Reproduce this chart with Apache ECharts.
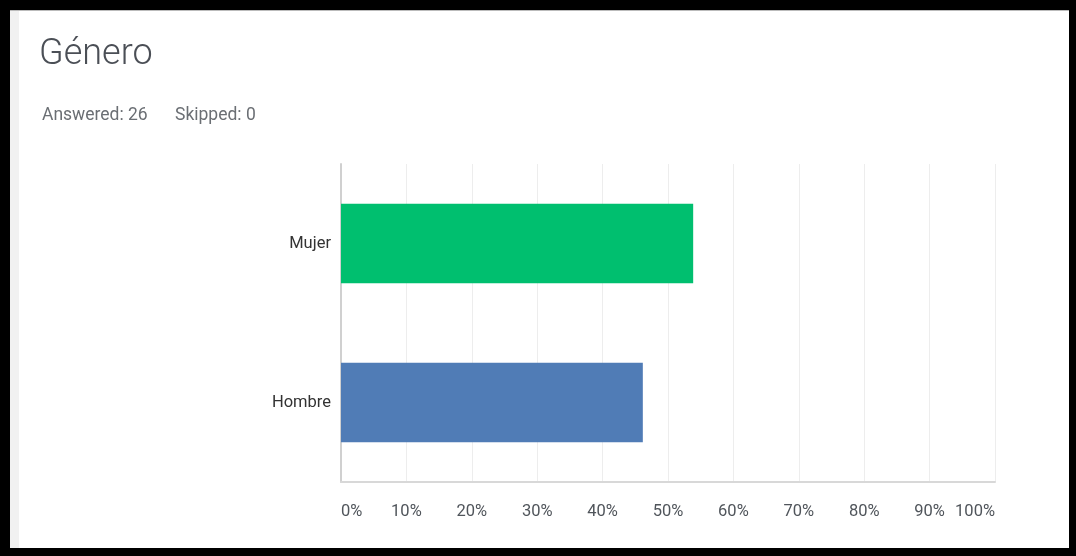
<!DOCTYPE html>
<html>
<head>
<meta charset="utf-8">
<script src="https://cdn.jsdelivr.net/npm/echarts@6/dist/echarts.min.js"></script>
<style>
html,body{margin:0;padding:0;background:#000;width:1076px;height:556px;overflow:hidden;}
#frame{position:absolute;left:10px;top:10px;width:1059px;height:538px;background:#fff;border-top:1px solid #bbb;box-sizing:border-box;}
#strip{position:absolute;left:0;top:0;width:9px;height:100%;background:#f1f1f1;}
#chart{position:absolute;left:0;top:0;width:1059px;height:537px;}
</style>
</head>
<body>
<div id="frame"><div id="strip"></div><div id="chart"></div></div>
<script>
const categories = ['Hombre', 'Mujer'];
const values = [46.15, 53.85];
const barColors = ['#507cb6', '#00bf6f'];
const tickLabels = ['0%','10%','20%','30%','40%','50%','60%','70%','80%','90%','100%'];
const titleText = 'Género';
const answeredText = 'Answered: 26';
const skippedText = 'Skipped: 0';

const chart = echarts.init(document.getElementById('chart'));
chart.setOption({
  animation: false,
  title: [
    {text: titleText, left: 24, top: 21, textStyle: {fontFamily: 'Roboto', fontWeight: 300, fontSize: 36, color: '#4b4f56'}},
    {text: answeredText, left: 27, top: 91, textStyle: {fontFamily: 'Roboto', fontWeight: 400, fontSize: 17.5, color: '#6b6f74'}},
    {text: skippedText, left: 160, top: 91, textStyle: {fontFamily: 'Roboto', fontWeight: 400, fontSize: 17.5, color: '#6b6f74'}}
  ],
  grid: {left: 331, right: 74, top: 153, bottom: 66, containLabel: false},
  xAxis: {
    type: 'value', min: 0, max: 100, interval: 10,
    axisLine: {show: true, lineStyle: {color: '#d8d8d8', width: 2}},
    axisTick: {show: false},
    splitLine: {show: true, lineStyle: {color: '#ededed', width: 1}},
    axisLabel: {
      fontFamily: 'Roboto', fontSize: 16.5, color: '#50555b', margin: 21,
      alignMinLabel: 'left', alignMaxLabel: 'right',
      formatter: function (v) { return tickLabels[Math.round(v / 10)]; }
    }
  },
  yAxis: {
    type: 'category', data: categories,
    axisLine: {show: true, lineStyle: {color: '#d0d0d0', width: 2}},
    axisTick: {show: false},
    axisLabel: {fontFamily: 'Roboto', fontSize: 16.5, color: '#333', margin: 10}
  },
  series: [{
    type: 'bar',
    data: values.map((v, i) => ({value: v, itemStyle: {color: barColors[i]}})),
    barCategoryGap: '50%'
  }]
});
</script>
</body>
</html>
